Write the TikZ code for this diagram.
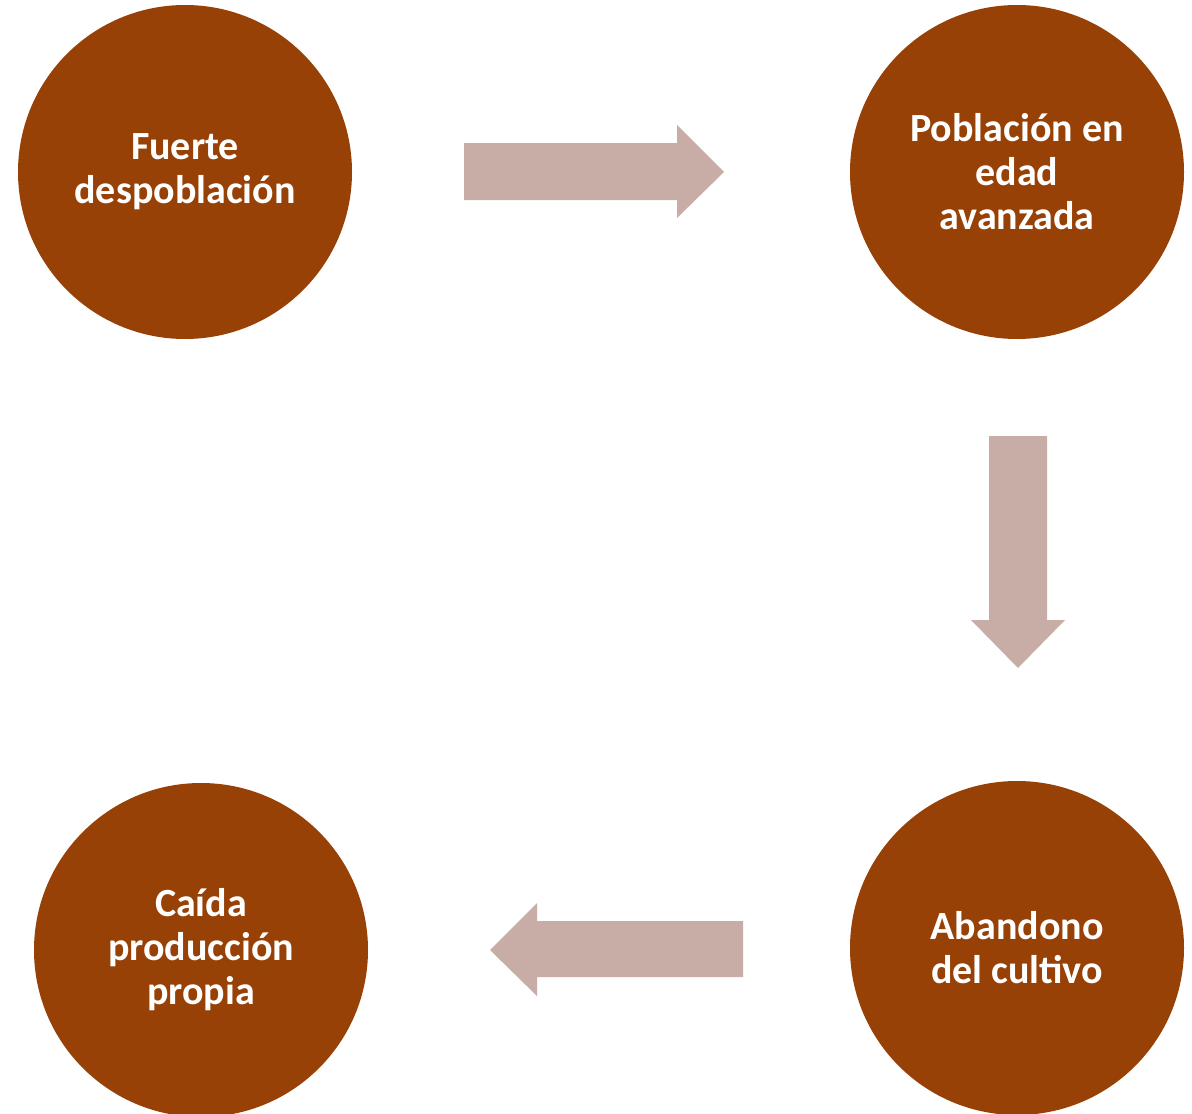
\documentclass[tikz,border=0pt]{standalone}
\usepackage{fontspec}
\setmainfont{Carlito}
\definecolor{brownfill}{HTML}{984106}
\definecolor{arrowfill}{HTML}{C8ADA7}
\begin{document}
\begin{tikzpicture}[x=1pt,y=-1pt,
  bubble/.style={circle,fill=brownfill,minimum size=334pt,inner sep=0pt,
    text=white,font=\fontsize{40}{44}\selectfont\bfseries,align=center},
  bigarrow/.style={fill=arrowfill,draw=none}]
\useasboundingbox[fill=white] (0,0) rectangle (1192,1114);
\node[bubble] (a) at (185,172) {Fuerte\\despoblación};
\node[bubble] (b) at (1017,172) {Población en\\edad\\avanzada};
\node[bubble] (c) at (1017,948) {Abandono\\del cultivo};
\node[bubble] (d) at (201,950) {Caída\\producción\\propia};
% right arrow
\fill[bigarrow] (464,143) -- (677,143) -- (677,125) -- (724,172) -- (677,218) -- (677,200) -- (464,200) -- cycle;
% down arrow
\fill[bigarrow] (989,436) -- (1047,436) -- (1047,620) -- (1065,620) -- (1018,668) -- (971,620) -- (989,620) -- cycle;
% left arrow
\fill[bigarrow] (743,921) -- (537,921) -- (537,903) -- (490,950) -- (537,996) -- (537,977) -- (743,977) -- cycle;
\end{tikzpicture}
\end{document}
